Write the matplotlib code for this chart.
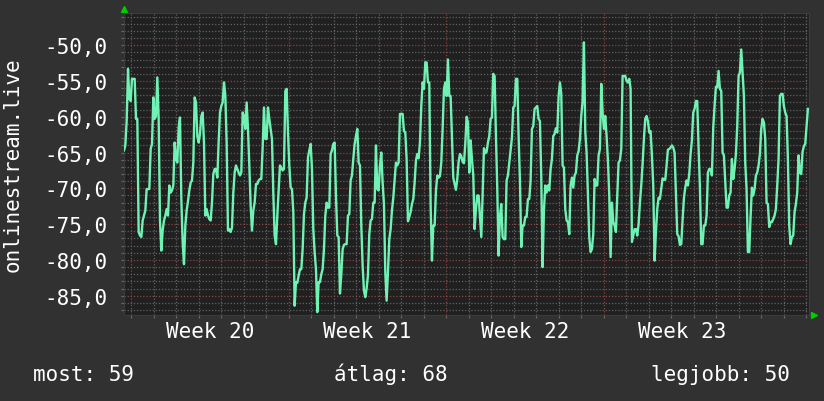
"""Signal level graph for onlinestream.live, weeks 20-23 (rrdtool look)"""

import matplotlib.pyplot as plt
import numpy as np
from matplotlib.ticker import MultipleLocator, FuncFormatter, NullFormatter
from matplotlib.transforms import blended_transform_factory


# data: one sample every STEP_H hours, starting T0_H
# hours before the start of week 20
T0_H = -7.47
STEP_H = 1.422
level = [
    -64.7, -64.0, -60.6, -53.3, -57.5, -57.8, -54.7, -54.7, -54.7, -60.3, -60.3, -76.1, -76.6, -76.8, -74.5,
    -73.8, -73.1, -70.1, -70.1, -70.1, -64.5, -63.8, -57.3, -60.3, -59.9, -54.5, -60.3, -74.5, -78.7, -75.9,
    -74.5, -73.8, -72.9, -73.8, -69.6, -70.6, -70.3, -69.6, -63.6, -65.9, -66.4, -61.5, -60.1, -71.5, -77.5,
    -80.6, -75.2, -73.1, -71.8, -70.3, -69.2, -68.9, -66.4, -57.3, -58.0, -62.7, -63.6, -62.4, -59.9, -59.4,
    -63.6, -73.8, -72.9, -73.8, -74.3, -74.5, -72.0, -68.0, -67.3, -67.3, -68.5, -63.5, -59.4, -58.5,
    -58.0, -55.2, -57.0, -63.6, -75.9, -75.7, -76.1, -75.5, -70.6, -67.8, -66.8, -67.3, -67.8, -68.2, -67.8,
    -59.4, -59.9, -61.7, -58.0, -61.7, -66.8, -72.4, -75.9, -73.1, -72.0, -69.4, -69.4, -68.9, -68.7, -68.7,
    -64.3, -58.7, -63.1, -63.1, -58.7, -60.3, -61.7, -63.1, -70.6, -76.6, -77.8, -73.8, -70.3, -66.8, -67.1,
    -67.5, -67.3, -56.4, -56.1, -62.2, -66.8, -69.9, -70.1, -73.3, -86.4, -83.1, -83.2, -82.2, -81.3, -81.3,
    -78.5, -73.6, -72.0, -71.3, -65.7, -64.7, -63.8, -67.3, -75.7, -78.9, -81.3, -87.3, -83.1, -83.1,
    -82.0, -81.3, -78.5, -73.8, -72.0, -72.7, -72.7, -65.2, -64.7, -63.8, -63.6, -71.0, -76.6, -76.8, -84.7,
    -82.0, -78.5, -77.9, -77.8, -77.8, -73.8, -73.6, -68.9, -68.2, -65.9, -63.8, -62.7, -61.7, -66.4, -66.8,
    -75.2, -80.8, -84.3, -85.2, -84.0, -82.1, -76.4, -74.5, -74.3, -72.0, -72.0, -64.0, -70.1, -70.3, -66.8,
    -65.0, -69.2, -72.2, -81.7, -85.7, -81.7, -77.1, -75.7, -73.1, -71.3, -68.9, -66.4, -66.8, -66.4, -59.6,
    -59.6, -59.6, -62.0, -62.2, -65.9, -74.6, -74.0, -73.3, -72.2, -71.5, -69.2, -66.1, -65.2,
    -65.8, -63.6, -58.5, -55.2, -56.1, -52.4, -52.4, -55.2, -55.2, -72.4, -80.1, -75.2, -75.2, -70.3, -68.2,
    -68.5, -68.3, -66.4, -61.7, -56.1, -55.2, -57.1, -52.0, -57.1, -57.1, -62.7, -68.5, -69.4, -70.2, -68.7,
    -66.3, -65.2, -65.5, -66.3, -66.5, -63.8, -60.0, -60.8, -67.8, -63.3, -65.9, -68.2, -75.7, -72.9, -71.0,
    -71.0, -73.8, -76.8, -71.0, -64.4, -65.1, -64.9, -63.6, -62.7, -60.3, -60.1, -54.0, -54.3, -62.7, -70.1,
    -79.4, -73.9, -72.2, -76.8, -77.1, -77.1, -68.9, -68.2, -66.4, -64.5, -62.9, -58.7, -58.5, -54.7,
    -54.7, -62.7, -68.9, -78.2, -75.2, -75.2, -74.0, -74.0, -71.5, -71.5, -68.9, -61.7, -61.3, -58.9, -58.7,
    -58.5, -60.3, -60.6, -68.5, -81.0, -73.1, -69.6, -70.6, -69.6, -70.3, -67.3, -65.9, -62.7, -62.4, -61.6,
    -62.2, -57.1, -55.2, -56.8, -66.8, -67.1, -72.9, -74.5, -74.7, -76.4, -69.6, -68.5, -69.9, -68.2, -67.8,
    -65.4, -64.8, -63.1, -59.9, -57.8, -49.6, -62.0, -65.0, -70.8, -76.8, -78.9, -78.5, -76.4, -68.7, -69.6,
    -69.6, -65.4, -64.5, -55.4, -59.4, -61.7, -59.9, -62.7, -66.1, -71.0, -79.6, -72.0, -74.7,
    -75.2, -76.1, -71.0, -66.4, -66.1, -64.5, -54.3, -54.3, -54.3, -55.0, -55.2, -54.7, -56.1, -77.5, -76.6,
    -75.7, -75.7, -76.6, -75.0, -72.0, -69.6, -66.6, -63.1, -60.3, -59.9, -60.6, -62.2, -62.0, -65.4, -69.6,
    -80.1, -76.1, -72.9, -71.3, -71.5, -70.1, -68.6, -68.8, -68.8, -66.8, -64.6, -64.5, -64.3, -64.0, -64.3,
    -65.0, -70.8, -76.4, -76.7, -77.9, -77.8, -74.4, -71.4, -69.9, -68.9, -69.6, -68.0, -65.2, -63.3, -59.4,
    -58.9, -57.8, -57.8, -64.3, -69.9, -77.8, -77.8, -75.2, -75.2, -73.8, -67.8, -67.3, -67.3, -68.2,
    -61.5, -58.5, -55.8, -55.9, -53.6, -56.1, -56.4, -65.0, -65.4, -69.2, -72.7, -72.7, -71.0, -70.6, -65.9,
    -68.7, -67.3, -65.2, -61.3, -54.3, -53.8, -50.6, -53.8, -57.1, -66.4, -70.1, -78.9, -78.9, -74.0, -69.9,
    -71.0, -70.1, -68.2, -67.8, -66.8, -65.2, -61.7, -60.3, -60.8, -63.1, -72.0, -72.2, -75.4, -74.7, -74.7,
    -74.3, -73.8, -72.9, -69.6, -65.9, -57.1, -56.8, -56.8, -58.5, -59.4, -59.9, -65.9, -75.2, -77.8, -76.8,
    -76.6, -73.3, -72.2, -70.6, -65.4, -67.8, -68.0, -64.9, -64.1, -63.8, -61.3, -58.9,
]
weeks = ["Week 20", "Week 21", "Week 22", "Week 23"]
summary = ["most: 59", "átlag: 68", "legjobb: 50"]
source = "onlinestream.live"

# colours
BG = "#313131"
PLOT_BG = "#202020"
LINE = "#6ff2b4"
GRID_MIN = "#626262"
GRID_MAJ = "#8a4444"
ARROW = "#00cc00"

plt.rcParams["font.family"] = ["DejaVu Sans Mono", "DejaVu Sans"]
plt.rcParams["font.size"] = 15

t = T0_H + STEP_H * np.arange(len(level))

fig = plt.figure(figsize=(8.24, 4.02), dpi=100, facecolor=BG)
ax = fig.add_axes([124 / 824, 1 - 316 / 402, 685 / 824, 302 / 402])
ax.set_facecolor(PLOT_BG)

ax.plot(t, level, color=LINE, lw=1.7, zorder=3)

ax.set_xlim(T0_H, T0_H + 685 / 22.5 * 24)
ax.set_ylim(-87.7, -45.5)

# grid: day / week, 1 dB / 5 dB
ax.xaxis.set_major_locator(MultipleLocator(168))
ax.xaxis.set_minor_locator(MultipleLocator(24))
ax.xaxis.set_major_formatter(NullFormatter())
ax.yaxis.set_major_locator(MultipleLocator(5))
ax.yaxis.set_minor_locator(MultipleLocator(1))
ax.yaxis.set_major_formatter(FuncFormatter(lambda v, p: f"{v:.1f}".replace(".", ",")))
ax.set_axisbelow(True)
ax.grid(which="minor", color=GRID_MIN, ls=(0, (1, 1.5)), lw=0.9)
ax.grid(which="major", color=GRID_MAJ, ls=(0, (1, 1.5)), lw=0.9)

ax.tick_params(which="both", direction="out", length=2, color="#6a6a6a", width=0.8)
ax.tick_params(axis="y", which="major", labelsize=15, labelcolor="white", pad=10)
for s in ax.spines.values():
    s.set_color("#3c3c3c")

# week labels in the middle of each week
trans = blended_transform_factory(ax.transData, fig.transFigure)
for i, w in enumerate(weeks):
    ax.text(84 + 168 * i, 1 - 338 / 402, w, transform=trans, ha="center",
            va="baseline", color="white", fontsize=15)

fig.text(13 / 824, 1 - 165 / 402, source, rotation=90, ha="center",
         va="center", color="white", fontsize=15)

# summary line
fig.text(33 / 824, 1 - 381 / 402, summary[0], ha="left", va="baseline", color="white")
fig.text(334 / 824, 1 - 381 / 402, summary[1], ha="left", va="baseline", color="white")
fig.text(790 / 824, 1 - 381 / 402, summary[2], ha="right", va="baseline", color="white")

# axis arrows
ax.plot([0], [1 + 4 / 302], marker="^", ms=5, color=ARROW, transform=ax.transAxes, clip_on=False)
ax.plot([1 + 5 / 685], [0], marker=">", ms=5, color=ARROW, transform=ax.transAxes, clip_on=False)

fig.savefig("out.png", dpi=100, facecolor=BG)
